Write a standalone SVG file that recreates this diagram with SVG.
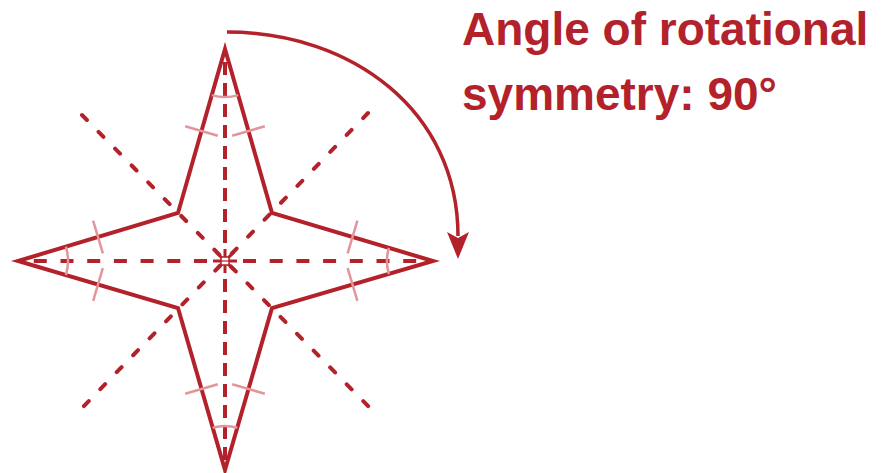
<svg xmlns="http://www.w3.org/2000/svg" width="884" height="473" viewBox="0 0 884 473">
<style>
.edge{fill:none;stroke:#b3222a;stroke-width:4;stroke-linejoin:miter;stroke-miterlimit:20}
.dh{fill:none;stroke:#b3222a;stroke-width:4;stroke-dasharray:13 13.7}
.dv{fill:none;stroke:#b3222a;stroke-width:4;stroke-dasharray:13 8}
.dd{fill:none;stroke:#b3222a;stroke-width:4;stroke-linecap:round;stroke-dasharray:7 16.6}
.tick{fill:none;stroke:#e39599;stroke-width:2.5}
.lbl{font-family:"Liberation Sans",Arial,sans-serif;font-weight:bold;font-size:46px;fill:#b3222a}
</style>
<rect width="884" height="473" fill="#ffffff"/>
<g id="axes">
<path class="dd" d="M82,115 L370,408"/>
<path class="dd" d="M368,113 L82,408"/>
<path class="dh" d="M243,261 L433,261"/>
<path class="dh" d="M207,261 L18,261"/>
<path class="dv" d="M225,243 L225,55"/>
<path class="dv" d="M225,279 L225,466"/>
</g>
<g id="star">
<path class="edge" d="M225,49 L272,213 L433,261 L272,308 L225,470 L178,308 L18,261 L178,213 Z"/>
</g>
<g id="center">
<path fill="none" stroke="#b3222a" stroke-width="3" d="M213,261 H237 M225,249 V273 M216,252 L234,270 M234,252 L216,270"/>
<rect x="221" y="257" width="8" height="8" fill="#ffffff" stroke="#b3222a" stroke-width="1.5"/>
<path stroke="#b3222a" stroke-width="1.2" d="M221,261 H229"/>
</g>
<g id="ticks">
<path class="tick" d="M185.2,126.3 L217.8,135.7 M232.2,135.7 L264.8,126.3"/>
<path class="tick" d="M185.2,393.7 L217.8,384.3 M232.2,384.3 L264.8,393.7"/>
<path class="tick" d="M93.1,220.7 L102.9,253.3 M102.8,268.2 L93.2,300.8"/>
<path class="tick" d="M357.4,220.7 L347.6,253.3 M347.6,268.2 L357.4,300.8"/>
<path class="tick" d="M211.8,95.1 A48,48 0 0 0 238.2,95.1"/>
<path class="tick" d="M212.7,427.8 A44,44 0 0 1 237.3,427.8"/>
<path class="tick" d="M65.9,246.6 A50,50 0 0 1 65.9,275.1"/>
<path class="tick" d="M388.9,247.8 A46,46 0 0 0 388.9,274.2"/>
</g>
<g id="connectors">
<path fill="none" stroke="#b3222a" stroke-width="3.5" d="M227,32 C352,32 458,111 458,236"/>
<polygon fill="#b3222a" points="447,232 458,238 469,232 458,259"/>
</g>
<g id="label">
<text class="lbl" x="462" y="45">Angle of rotational</text>
<text class="lbl" x="462" y="110">symmetry: 90°</text>
</g>
</svg>
